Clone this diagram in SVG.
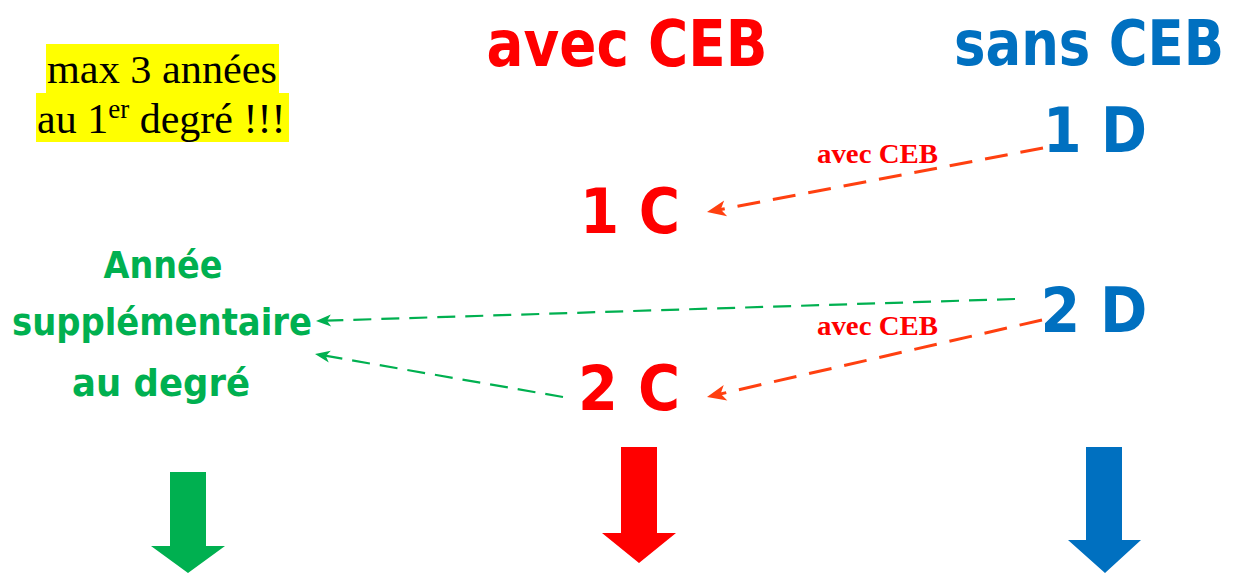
<svg xmlns="http://www.w3.org/2000/svg" width="1235" height="573" viewBox="0 0 1235 573">
<style>
.cm{font-family:"DejaVu Sans","Liberation Sans",sans-serif;font-weight:bold;text-anchor:middle}
.red{fill:#FF0000}
.blue{fill:#0070C0}
.green{fill:#00B050}
.tm{font-family:"Liberation Serif","Times New Roman",serif}
.lbl{font-family:"Liberation Serif",serif;font-weight:bold;font-size:27px;fill:#FF0000}
.or{stroke:#FF4010;stroke-width:3;stroke-dasharray:23 13;fill:none}
.gr{stroke:#00B050;stroke-width:2.2;stroke-dasharray:18 10;fill:none}
</style>
<defs>
<path id="ho" d="M0,0 L-19,-8 L-14,0 L-19,8 Z" fill="#FF4010"/>
<path id="hg" d="M0,0 L-15,-6 L-11,0 L-15,6 Z" fill="#00B050"/>
</defs>

<g id="note">
<rect x="46" y="44" width="233" height="49" fill="#FFFF00"/>
<rect x="36" y="93" width="253" height="49" fill="#FFFF00"/>
<text class="tm" x="47" y="83" font-size="41" textLength="230" lengthAdjust="spacingAndGlyphs">max 3 années</text>
<text class="tm" x="37" y="133" font-size="42">au 1<tspan font-size="27" dy="-15">er</tspan><tspan dy="15"> degré !!!</tspan></text>
</g>

<g id="title-avec">
<text class="cm red" x="627" y="66" font-size="64" textLength="281" lengthAdjust="spacingAndGlyphs">avec  CEB</text>
</g>
<g id="title-sans">
<text class="cm blue" x="1089" y="65" font-size="62" textLength="270" lengthAdjust="spacingAndGlyphs">sans  CEB</text>
</g>

<g id="node-1D">
<text class="cm blue" x="1095" y="152" font-size="62" textLength="104" lengthAdjust="spacingAndGlyphs">1  D</text>
</g>
<g id="node-1C">
<text class="cm red" x="630" y="233" font-size="62" textLength="100" lengthAdjust="spacingAndGlyphs">1  C</text>
</g>
<g id="node-2D">
<text class="cm blue" x="1094" y="332" font-size="62" textLength="107" lengthAdjust="spacingAndGlyphs">2  D</text>
</g>
<g id="node-2C">
<text class="cm red" x="629" y="410" font-size="62" textLength="102" lengthAdjust="spacingAndGlyphs">2  C</text>
</g>

<g id="node-annee">
<text class="cm green" x="163" y="278" font-size="38" textLength="119" lengthAdjust="spacingAndGlyphs">Année</text>
<text class="cm green" x="162" y="335" font-size="38" textLength="300" lengthAdjust="spacingAndGlyphs">supplémentaire</text>
<text class="cm green" x="161" y="396" font-size="38" textLength="178" lengthAdjust="spacingAndGlyphs">au  degré</text>
</g>

<g id="connectors">
<line class="or" x1="1043" y1="148" x2="719" y2="209.8"/>
<use href="#ho" transform="translate(707,212) rotate(169.22)"/>
<line class="or" x1="1042" y1="320" x2="719" y2="394.3"/>
<use href="#ho" transform="translate(707,397) rotate(167.06)"/>
<line class="gr" x1="1015" y1="299" x2="326" y2="320.7"/>
<use href="#hg" transform="translate(316,321) rotate(178.2)"/>
<line class="gr" x1="563" y1="397" x2="325" y2="355.7"/>
<use href="#hg" transform="translate(315,354) rotate(-170.16)"/>
<text class="lbl" x="817" y="163" textLength="121" lengthAdjust="spacingAndGlyphs">avec CEB</text>
<text class="lbl" x="817" y="335" textLength="121" lengthAdjust="spacingAndGlyphs">avec CEB</text>
</g>

<g id="arrow-green">
<polygon points="170,472 206,472 206,546 225,546 188,573 151,546 170,546" fill="#00B050"/>
</g>
<g id="arrow-red">
<polygon points="621,447 657,447 657,533 676,533 639,563 602,533 621,533" fill="#FF0000"/>
</g>
<g id="arrow-blue">
<polygon points="1086,447 1122,447 1122,540 1141,540 1105,573 1068,540 1086,540" fill="#0070C0"/>
</g>
</svg>
